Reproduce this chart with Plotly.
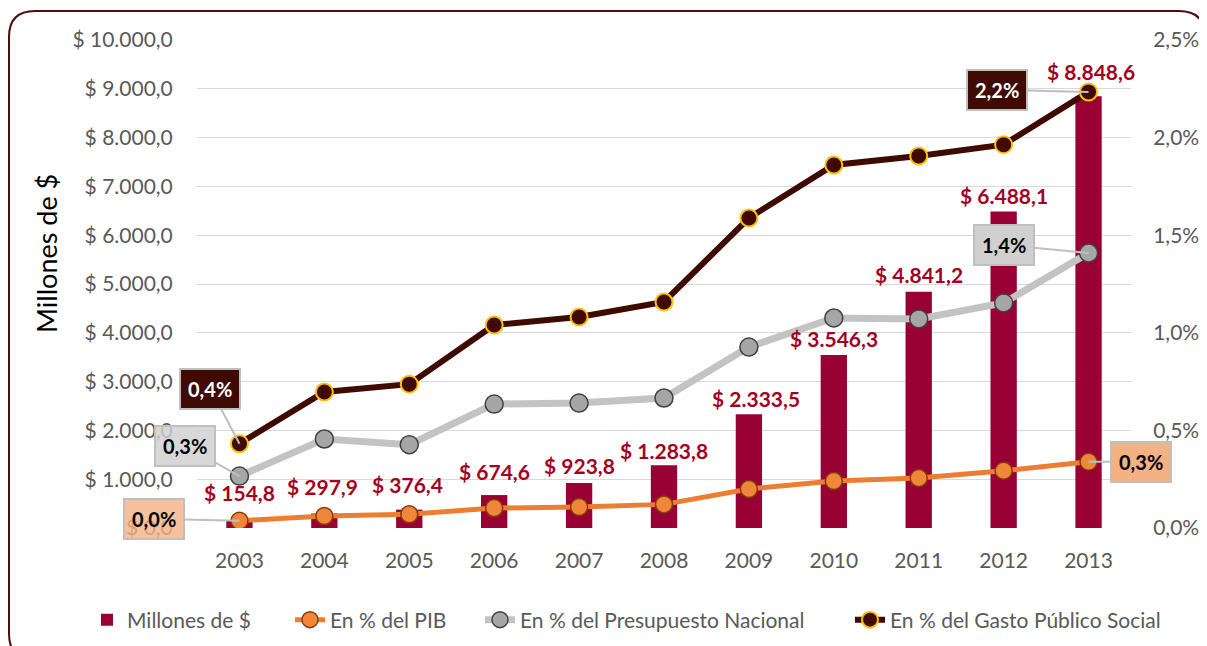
import plotly.graph_objects as go

# ---------------- data ----------------
years = ["2003", "2004", "2005", "2006", "2007", "2008", "2009", "2010", "2011", "2012", "2013"]
millones = [154.8, 297.9, 376.4, 674.6, 923.8, 1283.8, 2333.5, 3546.3, 4841.2, 6488.1, 8848.6]
pct_pib = [0.037, 0.061, 0.070, 0.102, 0.108, 0.121, 0.200, 0.241, 0.256, 0.293, 0.339]
pct_presupuesto = [0.266, 0.456, 0.427, 0.635, 0.640, 0.666, 0.927, 1.076, 1.071, 1.153, 1.409]
pct_gasto = [0.432, 0.697, 0.737, 1.040, 1.081, 1.158, 1.588, 1.860, 1.906, 1.964, 2.234]

left_tickvals = [0, 1000, 2000, 3000, 4000, 5000, 6000, 7000, 8000, 9000, 10000]
left_ticktext = ["$ 0,0", "$ 1.000,0", "$ 2.000,0", "$ 3.000,0", "$ 4.000,0", "$ 5.000,0",
                 "$ 6.000,0", "$ 7.000,0", "$ 8.000,0", "$ 9.000,0", "$ 10.000,0"]
right_tickvals = [0, 0.5, 1.0, 1.5, 2.0, 2.5]
right_ticktext = ["0,0%", "0,5%", "1,0%", "1,5%", "2,0%", "2,5%"]

# per-label offsets (px) of the bar value labels
label_yshift = [28, 27, 25, 24, 17, 15, 16, 16, 17, 16, 25]
label_xshift = [0, -2, -2, 0, 0, 0, 7, 0, 0, 0, 2]

FONT = "Lato"
OFF = 8                      # page offset of the plot canvas
W, H = 1207 - OFF, 646 - OFF
# plot area in reference pixels
PX0, PX1, PY0, PY1 = 197, 1131, 40, 528
L, R, T, B = PX0 - OFF, W - (PX1 - OFF), PY0 - OFF, H - (PY1 - OFF)
PW, PH = PX1 - PX0, PY1 - PY0


def es_num(v):
    s = f"{v:,.1f}"
    return s.replace(",", "X").replace(".", ",").replace("X", ".")


def px2paper(x, y):
    return (x - PX0) / PW, (PY1 - y) / PH


fig = go.Figure()

fig.add_trace(go.Bar(
    x=years, y=millones, name="Millones de $", legend="legend",
    marker=dict(color="#990033", line=dict(width=0)),
    width=0.31, yaxis="y",
))
fig.add_trace(go.Scatter(
    x=years, y=pct_pib, name="En % del PIB", mode="lines+markers", yaxis="y2", legend="legend2",
    line=dict(color="#ED7D31", width=5),
    marker=dict(size=17, color="#F0863A", line=dict(color="#843C0C", width=1.5)),
))
fig.add_trace(go.Scatter(
    x=years, y=pct_presupuesto, name="En % del Presupuesto Nacional", mode="lines+markers",
    yaxis="y2", legend="legend3",
    line=dict(color="#C3C3C3", width=7),
    marker=dict(size=18, color="#A6A6A6", line=dict(color="#404040", width=1.5)),
))
fig.add_trace(go.Scatter(
    x=years, y=pct_gasto, name="En % del Gasto Público Social", mode="lines+markers",
    yaxis="y2", legend="legend4",
    line=dict(color="#3F0A02", width=6),
    marker=dict(size=17, color="#3F0A02", line=dict(color="#FFC000", width=2)),
))

annotations = []
# bar value labels
for i, (v, ys, xs) in enumerate(zip(millones, label_yshift, label_xshift)):
    annotations.append(dict(
        x=i, y=v, xref="x", yref="y", text=f"<b>$ {es_num(v)}</b>", showarrow=False,
        yshift=ys, xshift=xs, font=dict(family=FONT, size=21, color="#A50021"),
    ))


def fmt_pct(v):
    return f"{v:.1f}".replace(".", ",") + "%"


def callout(idx, series, bg, fg, ax, ay):
    v = series[idx]
    return dict(
        x=idx, y=v, xref="x", yref="y2", text=f"<b>{fmt_pct(v)}</b>",
        showarrow=True, arrowhead=0, arrowwidth=2, arrowcolor="#BFBFBF",
        ax=ax, ay=ay, bgcolor=bg, bordercolor="#BFBFBF", borderwidth=2, borderpad=7,
        font=dict(family=FONT, size=20, color=fg),
    )


annotations += [
    callout(0, pct_gasto, "#3F0A02", "white", -29, -55),
    callout(0, pct_presupuesto, "rgba(208,208,208,0.82)", "black", -54, -30),
    callout(0, pct_pib, "rgba(244,177,131,0.8)", "black", -85, -2),
    callout(10, pct_gasto, "#3F0A02", "white", -92, -2),
    callout(10, pct_presupuesto, "#D0D0D0", "black", -85, -8),
    callout(10, pct_pib, "#F4B183", "black", 52, 0),
]

# y-axis title
tx, ty = px2paper(46, 254)
annotations.append(dict(
    x=tx, y=ty, xref="paper", yref="paper", text="Millones de $", textangle=-90,
    showarrow=False, font=dict(family=FONT, size=27, color="black"),
    xanchor="center", yanchor="middle",
))

# rounded border (reference pixels)
x0, y0, x1, y1, rr = 9, 11, 1205, 660, 26


def P(x, y):
    a, b = px2paper(x, y)
    return f"{a:.5f},{b:.5f}"


path = (f"M {P(x0 + rr, y0)} L {P(x1 - rr, y0)} Q {P(x1, y0)} {P(x1, y0 + rr)} "
        f"L {P(x1, y1 - rr)} Q {P(x1, y1)} {P(x1 - rr, y1)} L {P(x0 + rr, y1)} "
        f"Q {P(x0, y1)} {P(x0, y1 - rr)} L {P(x0, y0 + rr)} Q {P(x0, y0)} {P(x0 + rr, y0)} Z")


def legend_at(text_x, y=620):
    lx, ly = px2paper(text_x - 40, y)
    return dict(orientation="h", x=lx, xanchor="left", y=ly, yanchor="middle",
                font=dict(family=FONT, size=21, color="#595959"),
                bgcolor="rgba(0,0,0,0)", borderwidth=0)


fig.update_layout(
    width=W, height=H,
    margin=dict(l=L, r=R, t=T, b=B, autoexpand=False),
    paper_bgcolor="white", plot_bgcolor="white",
    font=dict(family=FONT, color="#595959", size=21),
    showlegend=True,
    legend=legend_at(127),
    legend2=legend_at(330),
    legend3=legend_at(520),
    legend4=legend_at(890),
    bargap=0.68,
    xaxis=dict(type="category", showgrid=False, showline=False, zeroline=False,
               ticks="outside", ticklen=14, tickcolor="rgba(0,0,0,0)",
               tickfont=dict(family=FONT, size=21, color="#595959"),
               range=[-0.5, 10.5], automargin=False),
    yaxis=dict(range=[0, 10000], tickvals=left_tickvals, ticktext=left_ticktext,
               showgrid=True, gridcolor="#D9D9D9", gridwidth=1.3, zeroline=False,
               showline=False, ticks="outside", ticklen=19, tickcolor="rgba(0,0,0,0)",
               tickfont=dict(family=FONT, size=21, color="#595959"), automargin=False),
    yaxis2=dict(range=[0, 2.5], tickvals=right_tickvals, ticktext=right_ticktext,
                overlaying="y", side="right", showgrid=False, zeroline=False,
                showline=False, ticks="outside", ticklen=17, tickcolor="rgba(0,0,0,0)",
                tickfont=dict(family=FONT, size=21, color="#595959"), automargin=False),
    annotations=annotations,
    shapes=[dict(type="path", xref="paper", yref="paper", path=path,
                 line=dict(color="#4A0F0A", width=2), fillcolor="rgba(0,0,0,0)", layer="below")],
)

fig.write_html("out.html")
